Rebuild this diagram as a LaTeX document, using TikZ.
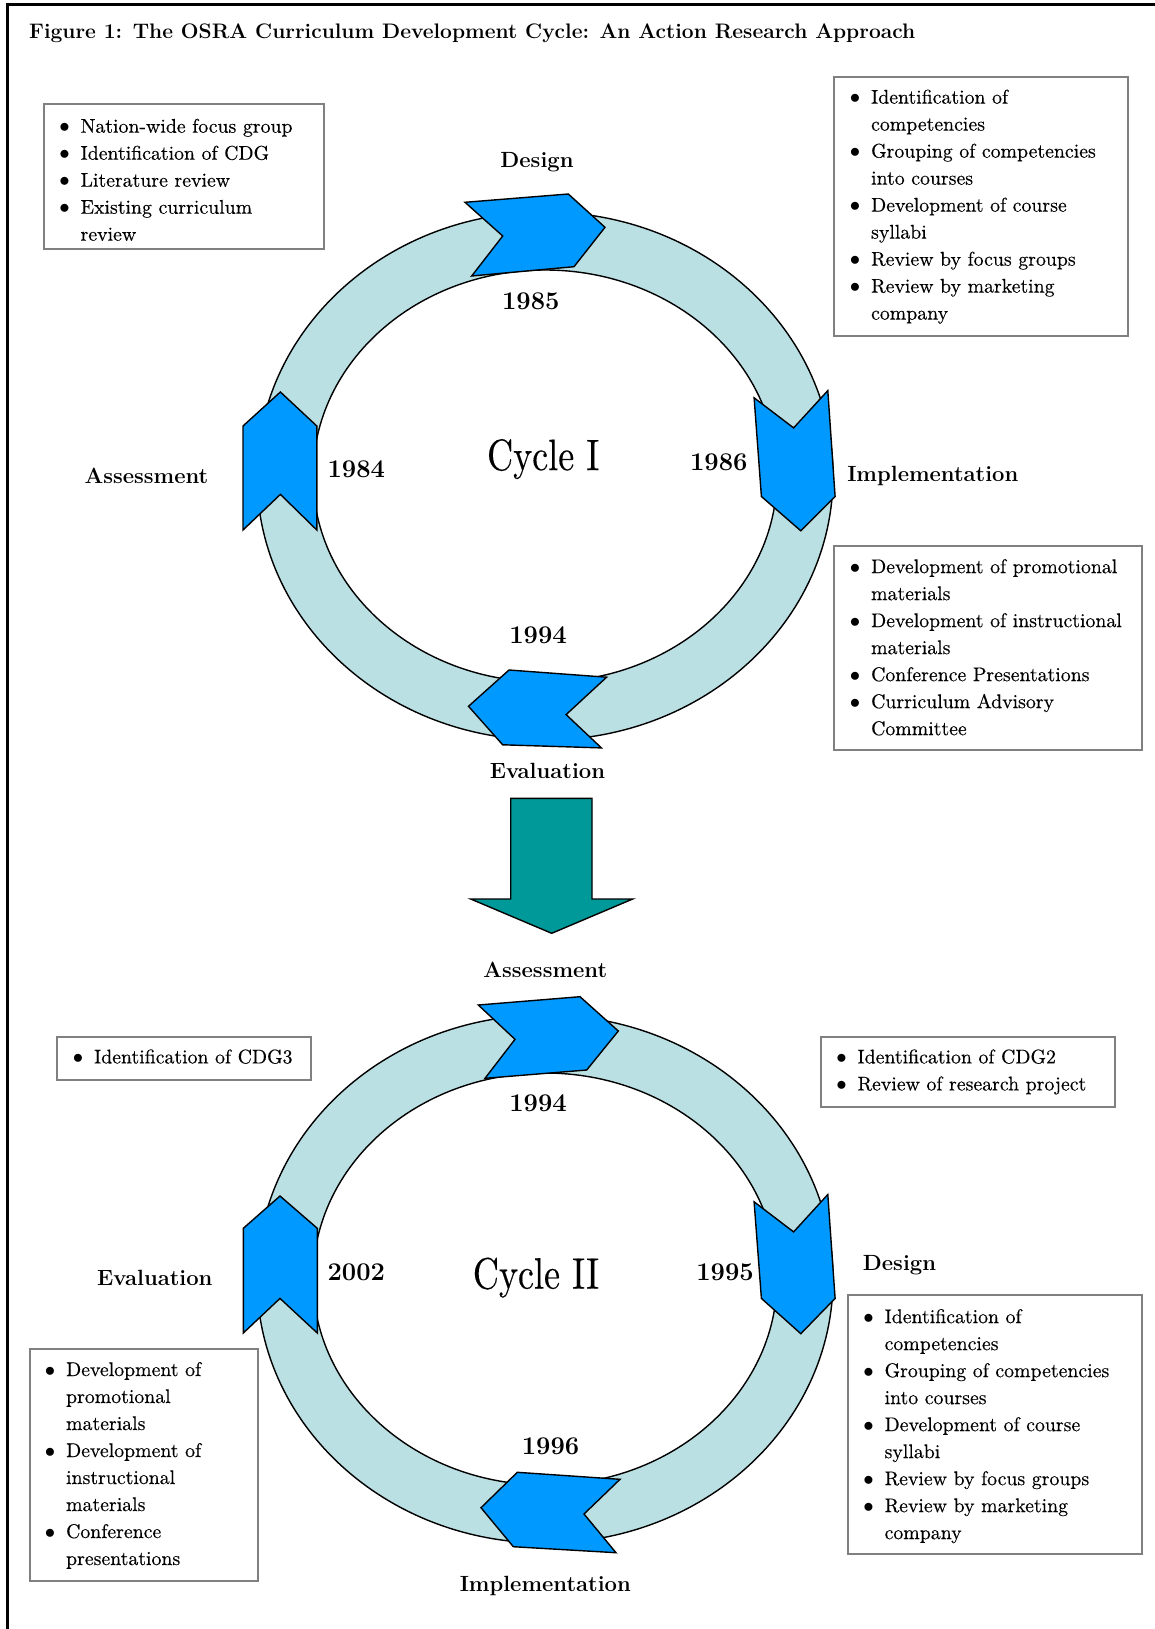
\documentclass[tikz,border=0pt]{standalone}
\usepackage{fontspec}
\usepackage{graphicx}
\newfontfamily\bxf{lmroman10-regular.otf}[FakeBold=0.3]
\definecolor{ringc}{RGB}{187,224,227}
\definecolor{chevc}{RGB}{0,153,255}
\definecolor{tealc}{RGB}{0,153,153}
\definecolor{boxgray}{RGB}{128,128,128}
\newcommand{\bitem}{\makebox[16pt][l]{\makebox[0pt][c]{$\bullet$}}}
\newcommand{\bcont}{\hspace*{16pt}}
\newcommand{\blist}[1]{\begin{tabular}[t]{@{}l@{}}#1\end{tabular}}
\tikzset{
  ring/.style={fill=ringc, draw=black, line width=1.4pt, even odd rule},
  chev/.style={fill=chevc, draw=black, line width=1.4pt, line join=miter},
  lbl/.style={font=\fontsize{22}{26}\selectfont\bfseries, inner sep=0},
  yr/.style={font=\fontsize{25.5}{28}\selectfont\bfseries, inner sep=0},
  cyc/.style={font=\bxf\fontsize{44}{48}\selectfont, inner sep=0},
  boxf/.style={draw=boxgray, line width=2pt, inner sep=0, anchor=north west},
  blisttext/.style={font=\bxf\fontsize{19.8}{27}\selectfont, inner sep=0, anchor=base west},
}
\begin{document}
\begin{tikzpicture}[x=1pt,y=-1pt]
\useasboundingbox (0,0) rectangle (1155,1629);
% frame
\draw[line width=3pt] (7,1629) -- (7,5) -- (1155,5);
% title
\node[anchor=base west, font=\fontsize{21}{24}\selectfont\bfseries, inner sep=0] (title) at (29,39)
  {Figure 1: The OSRA Curriculum Development Cycle: An Action Research Approach};

% ===== Cycle I =====
\path[ring] (545,476) ellipse [x radius=288, y radius=264] (545,476) ellipse [x radius=232, y radius=206];
\draw[chev] (465,202.3) -- (568.3,194) -- (605,227.3) -- (574,266.7) -- (471.7,276) -- (502.7,236) -- cycle;
\draw[chev] (280.4,392) -- (316.8,426) -- (316.8,530) -- (280.4,494.4) -- (243,530) -- (243,426) -- cycle;
\draw[chev] (754.1,397.8) -- (793.6,427.9) -- (827.8,390.6) -- (835.1,496.5) -- (800.8,530.8) -- (761.4,496.5) -- cycle;
\draw[chev] (509,670) -- (606.6,677.2) -- (566.1,714.6) -- (601.4,747.9) -- (502.7,744.8) -- (468.5,706.3) -- cycle;

\node[lbl] (d1) at (537,162) {Design};
\node[yr] (y1985) at (530.8,301.2) {1985};
\node[yr] (y1984) at (356.3,469.5) {1984};
\node[cyc] (c1) at (543.2,459.1) {\scalebox{0.82}[1]{Cycle I}};
\node[yr] (y1986) at (718.8,462.2) {1986};
\node[yr] (y1994a) at (538,635.7) {1994};
\node[lbl] (a1) at (146.5,475.7) {Assessment};
\node[lbl] (i1) at (932.8,475.7) {Implementation};
\node[lbl] (e1) at (547.4,770.7) {Evaluation};

% boxes cycle I
\node[boxf, minimum width=280.6, minimum height=144.7] (bA) at (42.7,103.3) {};
\node[blisttext] (tA) at (64.4,132.7) {\blist{\bitem Nation-wide focus group\\ \bitem Identification of CDG\\ \bitem Literature review\\ \bitem Existing curriculum\\ \bcont review}};
\node[boxf, minimum width=294, minimum height=258.7] (bB) at (833,75.8) {};
\node[blisttext] (tB) at (854.9,103.6) {\blist{\bitem Identification of\\ \bcont competencies\\ \bitem Grouping of competencies\\ \bcont into courses\\ \bitem Development of course\\ \bcont syllabi\\ \bitem Review by focus groups\\ \bitem Review by marketing\\ \bcont company}};
\node[boxf, minimum width=307.5, minimum height=203.6] (bC) at (833,545.3) {};
\node[blisttext] (tC) at (854.9,573.1) {\blist{\bitem Development of promotional\\ \bcont materials\\ \bitem Development of instructional\\ \bcont materials\\ \bitem Conference Presentations\\ \bitem Curriculum Advisory\\ \bcont Committee}};

% big arrow
\draw[fill=tealc, draw=black, line width=1.4pt] (510.7,798.3) -- (592,798.3) -- (592,899) -- (632.7,899) -- (551.7,933.3) -- (470.7,899) -- (510.7,899) -- cycle;

% ===== Cycle II =====
\path[ring] (545,1279) ellipse [x radius=288, y radius=264] (545,1279) ellipse [x radius=232, y radius=206];
\draw[chev] (478.3,1005) -- (580,996.7) -- (618.3,1031) -- (586.7,1070) -- (485,1078.3) -- (515,1039.3) -- cycle;
\draw[chev] (280,1196) -- (317.3,1228.3) -- (317.3,1333) -- (280,1298.4) -- (243.3,1333) -- (243.3,1228.3) -- cycle;
\draw[chev] (754.1,1201.8) -- (793.6,1231.9) -- (827.8,1194.5) -- (835.1,1298.4) -- (800.8,1333.7) -- (761.4,1298.4) -- cycle;
\draw[chev] (517.3,1472.3) -- (620,1479.3) -- (584,1514) -- (616,1552.7) -- (513.3,1546.7) -- (481,1507.7) -- cycle;

\node[lbl] (a2) at (545.3,970.1) {Assessment};
\node[yr] (y1994b) at (538,1103) {1994};
\node[yr] (y2002) at (356.3,1272.4) {2002};
\node[cyc] (c2) at (536,1277.6) {\scalebox{0.82}[1]{Cycle II}};
\node[yr] (y1995) at (725,1272.4) {1995};
\node[lbl] (d2) at (899.5,1265.1) {Design};
\node[lbl] (e2) at (154.8,1277.6) {Evaluation};
\node[yr] (y1996) at (550.5,1445.9) {1996};
\node[lbl] (i2) at (545.3,1586.1) {Implementation};

% boxes cycle II
\node[boxf, minimum width=253.4, minimum height=43.6] (bD) at (56.1,1035.6) {};
\node[blisttext] (tD) at (77.9,1063.4) {\blist{\bitem Identification of CDG3}};
\node[boxf, minimum width=294, minimum height=70.6] (bE) at (819.5,1035.6) {};
\node[blisttext] (tE) at (841.3,1063.4) {\blist{\bitem Identification of CDG2\\ \bitem Review of research project}};
\node[boxf, minimum width=227.5, minimum height=231.7] (bF) at (29.1,1348.2) {};
\node[blisttext] (tF) at (49.9,1376) {\blist{\bitem Development of\\ \bcont promotional\\ \bcont materials\\ \bitem Development of\\ \bcont instructional\\ \bcont materials\\ \bitem Conference\\ \bcont presentations}};
\node[boxf, minimum width=294, minimum height=258.6] (bG) at (846.5,1294.2) {};
\node[blisttext] (tG) at (868.4,1323.1) {\blist{\bitem Identification of\\ \bcont competencies\\ \bitem Grouping of competencies\\ \bcont into courses\\ \bitem Development of course\\ \bcont syllabi\\ \bitem Review by focus groups\\ \bitem Review by marketing\\ \bcont company}};
\end{tikzpicture}
\end{document}
